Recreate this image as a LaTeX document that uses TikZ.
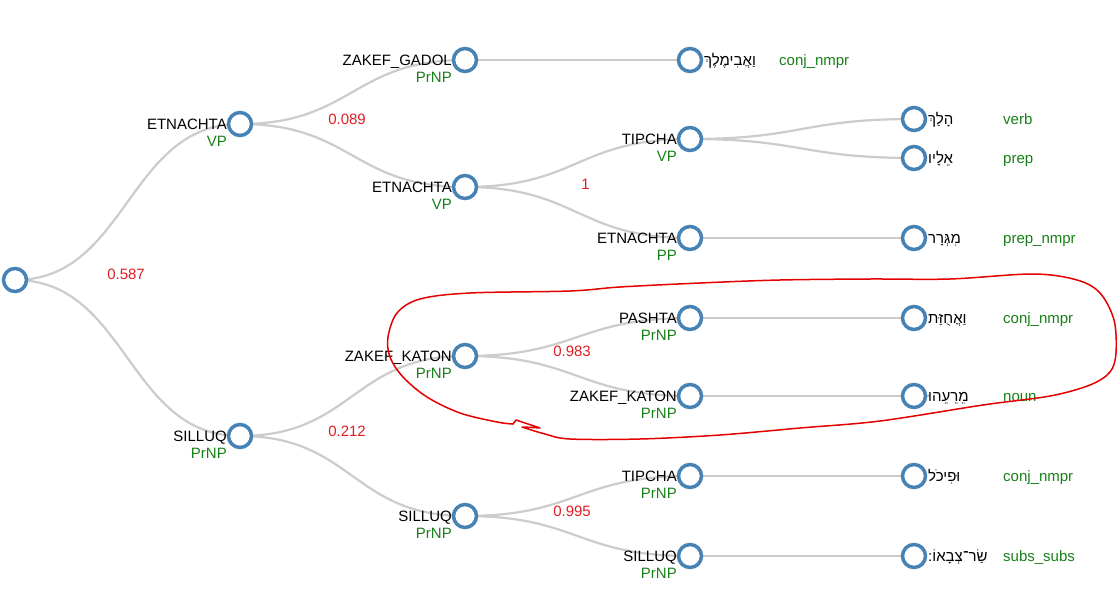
\documentclass[tikz,border=0pt]{standalone}
\usepackage{fontspec}
\setmainfont{Liberation Sans}
\newfontfamily\hebfont[Script=Hebrew]{Liberation Sans}
\TeXXeTstate=1
\usetikzlibrary{calc,backgrounds}
\definecolor{steel}{RGB}{70,130,180}
\definecolor{linkgray}{RGB}{204,204,204}
\definecolor{posgreen}{RGB}{24,128,24}
\definecolor{probred}{RGB}{225,30,35}
\definecolor{penred}{RGB}{228,0,0}
\tikzset{
  nd/.style={circle,draw=steel,fill=white,line width=3.5pt,minimum size=23pt,inner sep=0pt},
  txt/.style={inner sep=0pt,font=\fontsize{15pt}{18pt}\selectfont},
  acc/.style={txt,anchor=base east,text=black},
  cat/.style={txt,anchor=base east,text=posgreen},
  heb/.style={txt,anchor=base west,text=black},
  postag/.style={txt,anchor=base west,text=posgreen},
  prob/.style={txt,anchor=base east,text=probred},
  lk/.style={draw=linkgray,line width=2.2pt},
  pen/.style={draw=penred,line width=1.5pt,line cap=round,line join=round}
}
\newcommand\tnode[5]{%
  \node[nd] (#1) at (#2,#3) {};
  \node[acc] (#1-a) at ([xshift=-13pt,yshift=-5.25pt]#1.center) {#4};
  \node[cat] (#1-c) at ([xshift=-13pt,yshift=-22.5pt]#1.center) {#5};}
\newcommand\leafnode[5]{%
  \node[nd] (#1) at (#2,#3) {};
  \node[heb] (#1-w) at ([xshift=14pt,yshift=-5.25pt]#1.center) {\hebfont\beginR #4\endR};
  \node[postag] (#1-p) at ([xshift=89pt,yshift=-5.25pt]#1.center) {#5};}
\newcommand\lnk[2]{%
  \draw[lk] let \p1=(#1.center), \p2=(#2.center) in
    (\p1) .. controls ({0.5*\x1+0.5*\x2},\y1) and ({0.5*\x1+0.5*\x2},\y2) .. (\p2);}
\begin{document}
\begin{tikzpicture}[x=1pt,y=-1pt]
\useasboundingbox (0,0) rectangle (1117,597);
% internal nodes
\node[nd] (root) at (15,280) {};
\tnode{etn1}{240}{124}{ETNACHTA}{VP}
\tnode{sil1}{240}{436}{SILLUQ}{PrNP}
\tnode{zg}{465}{60}{ZAKEF\_GADOL}{PrNP}
\tnode{etn2}{465}{187}{ETNACHTA}{VP}
\tnode{zk1}{465}{356}{ZAKEF\_KATON}{PrNP}
\tnode{sil2}{465}{516}{SILLUQ}{PrNP}
\tnode{tip1}{690}{139}{TIPCHA}{VP}
\tnode{etn3}{690}{238}{ETNACHTA}{PP}
\tnode{pash}{690}{318}{PASHTA}{PrNP}
\tnode{zk2}{690}{396}{ZAKEF\_KATON}{PrNP}
\tnode{tip2}{690}{476}{TIPCHA}{PrNP}
\tnode{sil3}{690}{556}{SILLUQ}{PrNP}
% leaves
\leafnode{w1}{690}{60}{וַאֲבִימֶלֶךְ}{conj\_nmpr}
\leafnode{w2}{914}{119}{הָלַךְ}{verb}
\leafnode{w3}{914}{158}{אֵלָיו}{prep}
\leafnode{w4}{914}{238}{מִגְּרָר}{prep\_nmpr}
\leafnode{w5}{914}{318}{וַאֲחֻזַּת}{conj\_nmpr}
\leafnode{w6}{914}{396}{מֵרֵעֵהוּ}{noun}
\leafnode{w7}{914}{476}{וּפִיכֹל}{conj\_nmpr}
\leafnode{w8}{914}{556}{שַׂר־צְבָאוֹ:}{subs\_subs}
% probabilities
\node[prob] (p1) at ([xshift=130pt,yshift=1pt]root.center) {0.587};
\node[prob] (p2) at ([xshift=126pt]etn1.center) {0.089};
\node[prob] (p3) at ([xshift=125pt,yshift=-2pt]etn2.center) {1};
\node[prob] (p4) at ([xshift=126pt]sil1.center) {0.212};
\node[prob] (p5) at ([xshift=126pt]zk1.center) {0.983};
\node[prob] (p6) at ([xshift=126pt]sil2.center) {0.995};
% links
\begin{pgfonlayer}{background}
\fill[white] (0,0) rectangle (1117,597);
\lnk{root}{etn1}\lnk{root}{sil1}
\lnk{etn1}{zg}\lnk{etn1}{etn2}
\lnk{zg}{w1}
\lnk{etn2}{tip1}\lnk{etn2}{etn3}
\lnk{tip1}{w2}\lnk{tip1}{w3}
\lnk{etn3}{w4}
\lnk{sil1}{zk1}\lnk{sil1}{sil2}
\lnk{zk1}{pash}\lnk{zk1}{zk2}
\lnk{pash}{w5}\lnk{zk2}{w6}
\lnk{sil2}{tip2}\lnk{sil2}{sil3}
\lnk{tip2}{w7}\lnk{sil3}{w8}
\end{pgfonlayer}
% hand-drawn red loop
\draw[pen] plot[smooth,tension=0.55] coordinates {
 (522,427) (545,434) (570,439) (640,439) (720,435) (800,428) (880,421)
 (983,405) (1050,396) (1090,385) (1110,372) (1116,353) (1114,320)
 (1100,293) (1077,280) (1033,274) (950,279) (870,279) (780,280)
 (700,283) (620,287) (570,291) (470,293) (420,299) (397,313)
 (388,337) (390,357) (403,377) (427,397) (460,413) (497,422) (513,424)};
\draw[pen] (513,424) -- (516,420) -- (540,428) -- (524,427);
\end{tikzpicture}
\end{document}
